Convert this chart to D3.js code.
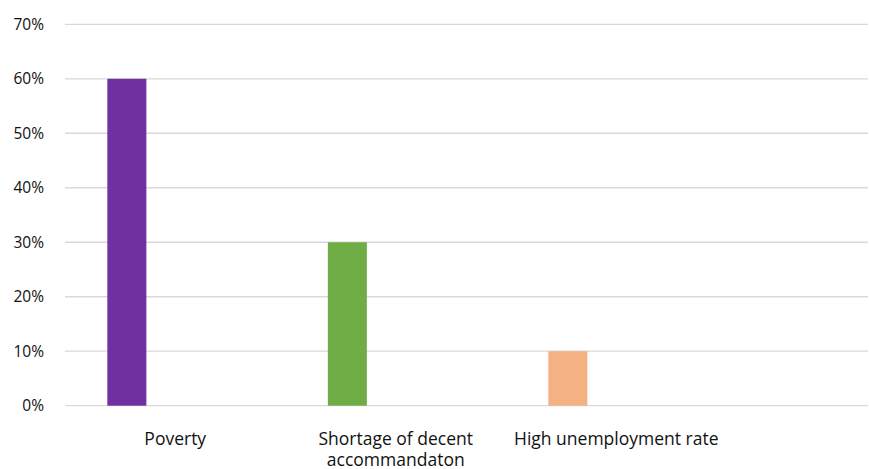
<!DOCTYPE html>
<html>
<head>
<meta charset="utf-8">
<script src="https://cdn.jsdelivr.net/npm/d3@7"></script>
<style>
  html, body { margin: 0; padding: 0; background: #fff; }
  svg { display: block; }
  text { font-family: "Open Sans", "Noto Sans", sans-serif; fill: #111; }
</style>
</head>
<body>
<svg id="chart" width="869" height="469"></svg>
<script>
// Share of respondents naming each cause
const categories = ["Poverty", "Shortage of decent accommandaton", "High unemployment rate"];
const values = [0.60, 0.30, 0.10];
const barColors = ["#7030A0", "#70AD47", "#F4B183"];
const yTicks = [0, 0.1, 0.2, 0.3, 0.4, 0.5, 0.6, 0.7];

const svg = d3.select("#chart");
const plot = { left: 65, right: 868, top: 24.3, bottom: 405.7 };
const bandStep = 220.5;

const x = d3.scaleBand()
  .domain(categories)
  .range([plot.left, plot.left + bandStep * categories.length])
  .padding(0);

const y = d3.scaleLinear()
  .domain([0, 0.7])
  .range([plot.bottom, plot.top]);

// horizontal gridlines
svg.append("g")
  .selectAll("line")
  .data(yTicks)
  .join("line")
  .attr("x1", plot.left)
  .attr("x2", plot.right)
  .attr("y1", d => y(d))
  .attr("y2", d => y(d))
  .attr("stroke", "#d9d9d9")
  .attr("stroke-width", 1.3);

// y axis labels
const yAxis = d3.axisLeft(y)
  .tickValues(yTicks)
  .tickFormat(d3.format(".0%"))
  .tickSize(0)
  .tickPadding(0);
const yG = svg.append("g")
  .attr("transform", `translate(${plot.left - 21},0)`)
  .call(yAxis);
yG.select(".domain").remove();
yG.selectAll("text")
  .attr("font-size", 15.5)
  .attr("font-family", "\"Open Sans\", sans-serif")
  .attr("fill", "#111");

// bars sit in the first slot of each category group
const slotOffset = 0.192;
const slotWidth = 0.177;
svg.append("g")
  .selectAll("rect")
  .data(categories)
  .join("rect")
  .attr("x", d => x(d) + x.bandwidth() * slotOffset)
  .attr("width", x.bandwidth() * slotWidth)
  .attr("y", (d, i) => y(values[i]))
  .attr("height", (d, i) => y(0) - y(values[i]))
  .attr("fill", (d, i) => barColors[i]);

// category labels, wrapped to the band width
function wrapWords(label, maxWidth, measure) {
  const words = label.split(" ");
  const lines = [];
  let line = "";
  words.forEach(w => {
    const test = line ? line + " " + w : w;
    if (measure(test) > maxWidth && line) {
      lines.push(line);
      line = w;
    } else {
      line = test;
    }
  });
  if (line) lines.push(line);
  return lines;
}

const labelSize = 17.5;
const measurer = svg.append("text")
  .attr("font-size", labelSize)
  .attr("visibility", "hidden");
const measure = s => { measurer.text(s); return measurer.node().getComputedTextLength(); };

const xG = svg.append("g");
categories.forEach(cat => {
  const lines = wrapWords(cat, x.bandwidth() - 6, measure);
  const t = xG.append("text")
    .attr("text-anchor", "middle")
    .attr("font-size", labelSize)
    .attr("x", x(cat) + x.bandwidth() / 2)
    .attr("y", 445);
  lines.forEach((ln, k) => {
    t.append("tspan")
      .attr("x", x(cat) + x.bandwidth() / 2)
      .attr("dy", k === 0 ? 0 : 21)
      .text(ln);
  });
});
measurer.remove();
</script>
</body>
</html>
